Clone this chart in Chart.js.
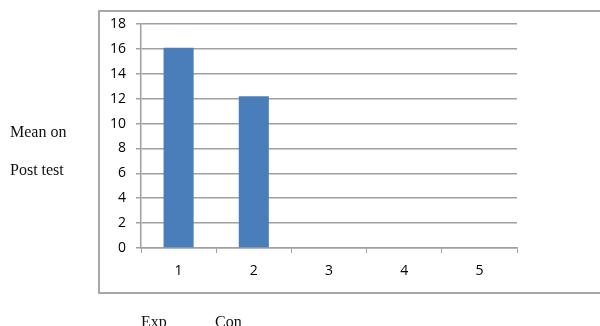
<!DOCTYPE html>
<html>
<head>
<meta charset="utf-8">
<script src="https://cdn.jsdelivr.net/npm/chart.js@4/dist/chart.umd.min.js"></script>
<style>
  html, body { margin: 0; padding: 0; background: #fff; overflow: hidden; }
  #wrap { position: relative; width: 600px; height: 326px; }
  #frame {
    position: absolute; left: 98px; top: 10px; width: 520px; height: 284px;
    border: 2px solid #a8a8a8; box-sizing: border-box; border-right: none;
  }
  canvas { position: absolute; left: 0; top: 0; }
  .note {
    position: absolute; font-family: "Liberation Serif", "Times New Roman", serif;
    font-size: 16px; color: #111; white-space: nowrap; line-height: 1;
  }
</style>
</head>
<body>
<div id="wrap">
  <div id="frame"></div>
  <canvas id="c" width="600" height="326"></canvas>
  <div class="note" style="left:10px; top:124px;">Mean on</div>
  <div class="note" style="left:10px; top:162px;">Post test</div>
  <div class="note" style="left:141px; top:314px;">Exp</div>
  <div class="note" style="left:215px; top:314px;">Con</div>
</div>
<script>
// Post-test means by group
const categories = ['1', '2', '3', '4', '5'];
const meanScores = [16.1, 12.2, null, null, null];
const yTicks = [0, 2, 4, 6, 8, 10, 12, 14, 16, 18];

const tickFont = { family: '"Open Sans", "Liberation Sans", sans-serif', size: 14 };

new Chart(document.getElementById('c'), {
  type: 'bar',
  data: {
    labels: categories,
    datasets: [{
      data: meanScores,
      backgroundColor: '#4a7ebb',
      borderWidth: 0,
      categoryPercentage: 1,
      barPercentage: 0.4
    }]
  },
  options: {
    responsive: false,
    animation: false,
    events: [],
    layout: { padding: { left: 100, right: 83, top: 24, bottom: 38 } },
    plugins: { legend: { display: false }, tooltip: { enabled: false } },
    scales: {
      x: {
        grid: { display: true, drawOnChartArea: false, tickLength: 5, color: '#a0a0a0', lineWidth: 1 },
        border: { display: true, color: '#a0a0a0', width: 1.5 },
        ticks: { font: tickFont, color: '#000', padding: 10, maxRotation: 0 },
        afterFit: s => { s.height = 40; }
      },
      y: {
        min: 0, max: 18,
        afterBuildTicks: s => { s.ticks = yTicks.map(v => ({ value: v })); },
        grid: { color: '#a0a0a0', lineWidth: 1.5, tickLength: 5 },
        border: { display: true, color: '#a0a0a0', width: 1.5 },
        ticks: { font: tickFont, color: '#000', padding: 10 },
        afterFit: s => { s.width = 41; }
      }
    }
  }
});
</script>
</body>
</html>
